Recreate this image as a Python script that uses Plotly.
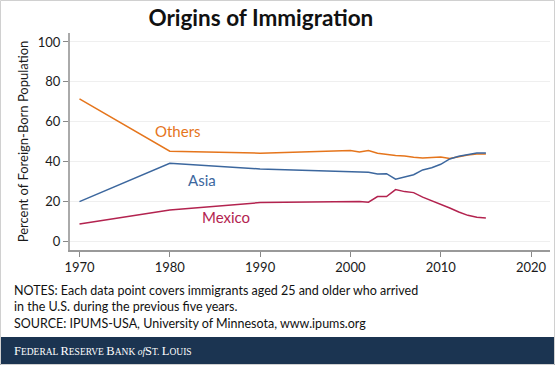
import plotly.graph_objects as go

years = [1970, 1980, 1990, 2000, 2001, 2002, 2003, 2004, 2005, 2006, 2007,
         2008, 2009, 2010, 2011, 2012, 2013, 2014, 2015]
others = [71.4, 45.2, 44.2, 45.5, 44.8, 45.5, 44.2, 43.6, 43.0, 42.8, 42.1,
          41.8, 42.0, 42.3, 41.5, 42.5, 43.3, 43.8, 43.8]
asia = [19.9, 39.1, 36.3, 34.8, 35.0, 34.6, 33.8, 33.9, 31.1, 32.3, 33.4,
        35.8, 36.9, 38.6, 41.3, 42.6, 43.5, 44.3, 44.3]
mexico = [8.7, 15.7, 19.4, 19.8, 20.0, 19.6, 22.4, 22.4, 25.9, 24.9, 24.4,
          22.1, 20.4, 18.6, 16.7, 14.7, 13.0, 12.0, 11.7]

x_ticks = [1970, 1980, 1990, 2000, 2010, 2020]
y_ticks = [0, 20, 40, 60, 80, 100]

C_OTH = "#E5751C"
C_ASIA = "#3C679E"
C_MEX = "#B3234F"
FONT = "Lato"

PL, PR, PT, PB = 70, 550, 33, 250
def px_x(x):
    return (x - PL) / (PR - PL)
def px_y(y):
    return (PB - y) / (PB - PT)

fig = go.Figure()
for name, vals, col in [("Others", others, C_OTH), ("Asia", asia, C_ASIA), ("Mexico", mexico, C_MEX)]:
    fig.add_trace(go.Scatter(x=years, y=vals, mode="lines", name=name,
                             line=dict(color=col, width=1.5), showlegend=False))

anns = []
labels = [("Others", 1980.96, 55.5, C_OTH), ("Asia", 1983.6, 30.6, C_ASIA), ("Mexico", 1986.2, 12.2, C_MEX)]
for txt, xx, yy, col in labels:
    anns.append(dict(x=xx, y=yy, text=txt, showarrow=False, xref="x", yref="y",
                     font=dict(family=FONT, size=15, color=col)))

notes = ["NOTES: Each data point covers immigrants aged 25 and older who arrived",
         "in the U.S. during the previous five years.",
         "SOURCE: IPUMS-USA, University of Minnesota, www.ipums.org"]
for i, t in enumerate(notes):
    anns.append(dict(x=px_x(12), y=px_y(290 + 16.7 * i), xref="paper", yref="paper", text=t,
                     showarrow=False, xanchor="left", yanchor="middle",
                     font=dict(family=FONT, size=12.5, color="#111")))

footer = ('<span style="font-size:12.5px">F</span>EDERAL '
          '<span style="font-size:12.5px">R</span>ESERVE '
          '<span style="font-size:12.5px">B</span>ANK '
          '<i>of</i>'
          '<span style="font-size:12.5px">S</span>T. '
          '<span style="font-size:12.5px">L</span>OUIS')
anns.append(dict(x=px_x(12), y=px_y(351), xref="paper", yref="paper", text=footer,
                 showarrow=False, xanchor="left", yanchor="middle",
                 font=dict(family="Liberation Serif", size=9.5, color="white")))

fig.update_layout(
    width=555, height=365,
    margin=dict(l=PL, r=555 - PR, t=PT, b=365 - PB),
    paper_bgcolor="white", plot_bgcolor="white",
    font=dict(family=FONT, color="#1a1a1a"),
    title=dict(text="<b>Origins of Immigration</b>", x=0.47, xanchor="center",
               y=1 - 18 / 365, yanchor="middle", font=dict(family=FONT, size=22.5, color="#111")),
    xaxis=dict(range=[1968.95, 2022.1], tickvals=x_ticks, ticks="outside", ticklen=5,
               tickcolor="#888", showline=True, linecolor="#999", linewidth=1.5,
               showgrid=False, zeroline=False, tickfont=dict(size=13, color="#1a1a1a")),
    yaxis=dict(range=[-4.4, 104.5], tickvals=y_ticks, ticks="outside", ticklen=5,
               tickcolor="#888", showline=True, linecolor="#aaa", linewidth=2,
               showgrid=True, gridcolor="#efefef", gridwidth=1, zeroline=False,
               tickfont=dict(size=13, color="#1a1a1a"),
               title=dict(text="Percent of Foreign-Born Population", standoff=6,
                          font=dict(size=13, color="#1a1a1a"))),
    annotations=anns,
)

fig.add_shape(type="rect", xref="paper", yref="paper",
              x0=px_x(0), x1=px_x(555), y0=px_y(365), y1=px_y(337),
              fillcolor="#1B3451", line=dict(width=0), layer="below")
fig.add_shape(type="rect", xref="paper", yref="paper",
              x0=px_x(0.5), x1=px_x(554.5), y0=px_y(364.5), y1=px_y(0.5),
              fillcolor="rgba(0,0,0,0)", line=dict(width=1, color="#d0d0d0"), layer="below")

fig.write_html("out.html", config={"displayModeBar": False},
               post_script="document.body.style.margin='0';")
